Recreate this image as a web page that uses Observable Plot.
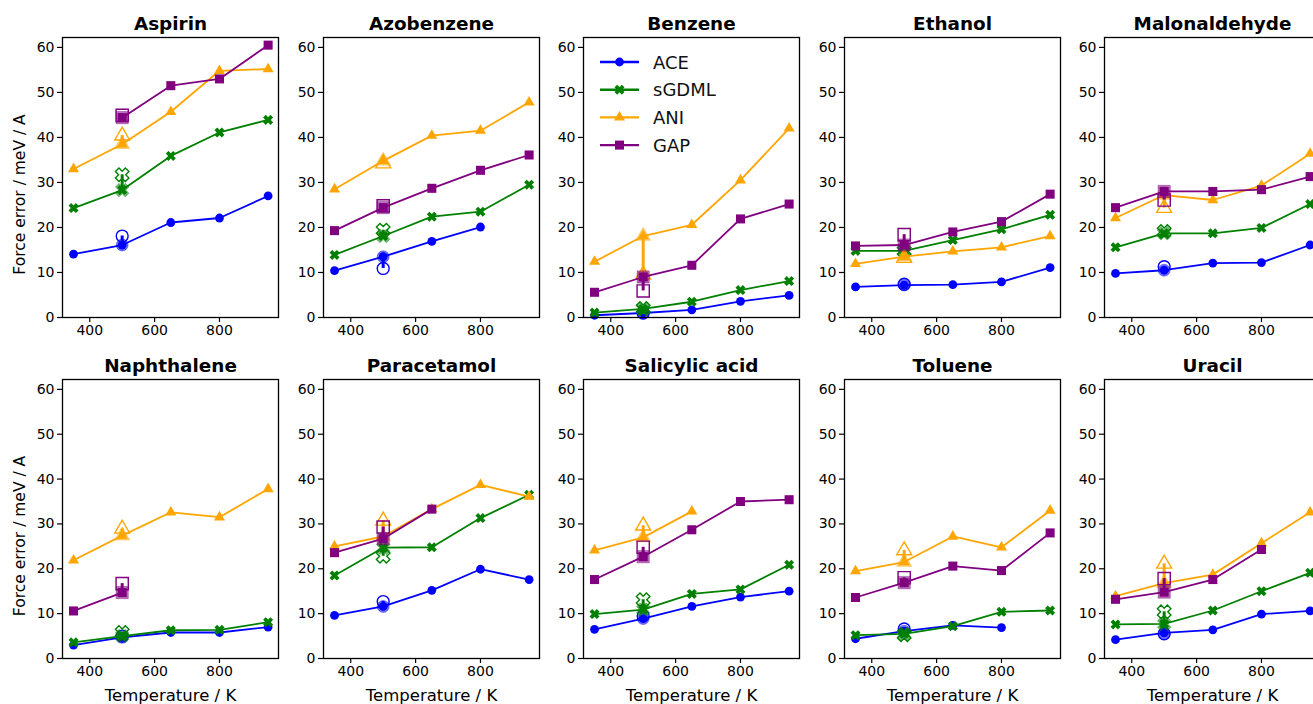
<!DOCTYPE html>
<html><head><meta charset="utf-8">
<script src="https://cdn.jsdelivr.net/npm/d3@7"></script>
<script src="https://cdn.jsdelivr.net/npm/@observablehq/plot@0.6"></script>
<style>
html,body{margin:0;padding:0;background:#fff;overflow:hidden;}
#root{position:relative;width:1313px;height:704px;overflow:hidden;font-family:"DejaVu Sans",sans-serif;background:#fff;}
</style></head><body><div id="root"></div>
<script>
const temps = [350, 500, 650, 800, 950];
const molecules = ["Aspirin","Azobenzene","Benzene","Ethanol","Malonaldehyde","Naphthalene","Paracetamol","Salicylic acid","Toluene","Uracil"];
const methods = ["ACE","sGDML","ANI","GAP"];
const colors = ["blue","green","orange","purple"];
const yTicks = [0,10,20,30,40,50,60];
const xTicks = [400,600,800];

// force errors (meV/A) per molecule at temps
const aceErr = [
 [14.1,16.1,21.1,22.1,27.0],
 [10.4,13.5,16.9,20.1,null],
 [0.5,1.0,1.7,3.6,4.9],
 [6.8,7.2,7.3,7.9,11.1],
 [9.8,10.5,12.1,12.2,16.1],
 [3.0,4.7,5.8,5.8,7.0],
 [9.6,11.6,15.2,19.9,17.6],
 [6.5,8.9,11.6,13.7,15.0],
 [4.4,6.1,7.4,6.9,null],
 [4.2,5.7,6.4,9.9,10.6]
];
const sgdmlErr = [
 [24.3,28.3,35.9,41.1,43.9],
 [13.9,18.1,22.4,23.5,29.5],
 [1.1,1.9,3.5,6.1,8.1],
 [14.8,14.8,17.2,19.6,22.8],
 [15.6,18.7,18.7,19.9,25.2],
 [3.6,5.0,6.3,6.4,8.1],
 [18.5,24.7,24.8,31.3,36.5],
 [9.9,10.9,14.4,15.4,20.9],
 [5.2,5.5,7.2,10.4,10.7],
 [7.6,7.7,10.7,15.0,19.1]
];
const aniErr = [
 [33.0,38.5,45.7,54.8,55.2],
 [28.5,34.8,40.4,41.5,47.8],
 [12.4,18.1,20.6,30.5,42.0],
 [11.9,13.5,14.7,15.6,18.1],
 [22.1,27.2,26.1,29.3,36.4],
 [21.9,27.4,32.6,31.5,37.8],
 [25.0,27.2,33.3,38.7,36.1],
 [24.1,27.0,32.8,null,null],
 [19.5,21.5,27.2,24.8,33.0],
 [13.9,16.8,18.7,25.7,32.6]
];
const gapErr = [
 [null,44.4,51.5,53.0,60.5],
 [19.3,24.4,28.7,32.7,36.1],
 [5.6,9.0,11.6,21.9,25.2],
 [15.9,16.1,19.0,21.3,27.4],
 [24.4,28.0,28.0,28.4,31.3],
 [10.6,14.7,null,null,null],
 [23.6,26.7,33.3,null,null],
 [17.6,22.7,28.7,35.0,35.4],
 [13.6,16.9,20.6,19.6,28.0],
 [13.2,14.8,17.6,24.3,null]
];
// alternative 500 K values (open markers)
const ace500   = [18.1,10.9,1.0,7.4,11.3,5.0,12.7,9.5,6.6,5.5];
const sgdml500 = [31.7,19.4,2.0,14.8,19.1,5.8,22.8,13.1,5.3,10.4];
const ani500   = [40.4,34.2,9.5,13.2,24.3,28.9,30.7,29.6,24.1,21.1];
const gap500   = [44.9,24.8,5.9,18.4,26.1,16.7,29.3,24.8,18.0,17.8];

const series = [aceErr, sgdmlErr, aniErr, gapErr];
const alts = [ace500, sgdml500, ani500, gap500];

// filled "X" marker
const xSym = {draw(ctx, size){
  const t = Math.sqrt(size)*0.6, w = t*0.36, k = Math.SQRT1_2;
  const pts=[[-w,-t],[w,-t],[w,-w],[t,-w],[t,w],[w,w],[w,t],[-w,t],[-w,w],[-t,w],[-t,-w],[-w,-w]];
  pts.forEach(([x,y],i)=>{const X=(x-y)*k, Y=(x+y)*k; if(i) ctx.lineTo(X,Y); else ctx.moveTo(X,Y);});
  ctx.closePath();
}};
const symbols = ["circle", xSym, "triangle", "square"];
const symTypes = [d3.symbolCircle, xSym, d3.symbolTriangle, d3.symbolSquare];
const radii = [4.4, 4.9, 4.1, 5.1];

const root = document.getElementById("root");

function panel(i){
  const row = Math.floor(i/5), col = i%5;
  const frameLeft = 62 + 260.5*col;
  const mL = 62, mR = 6, mT = 37, mB = row ? 46 : 28;
  const innerH = row ? 279 : 280;
  const W = mL + 216 + mR, H = mT + innerH + mB;
  const top = row ? 342 : 0;
  const marks = [];
  methods.forEach((m,k)=>{
    const vals = series[k][i];
    const alt = alts[k][i];
    const data = temps.map((T,j)=>({T, v: vals[j]}));
    const main = vals[1];
    marks.push(Plot.line(data, {x:"T", y:"v", stroke: colors[k], strokeWidth: 1.8}));
    marks.push(Plot.dot(data.filter(d=>d.v!=null), {x:"T", y:"v", symbol: symbols[k], r: radii[k], fill: colors[k], stroke: "none"}));
    if (main != null) {
      marks.push(Plot.dot([{T:500, v:main}], {x:"T", y:"v", symbol: symbols[k], r: radii[k]*1.35, fill: colors[k], fillOpacity: 0.55, stroke: colors[k], strokeOpacity: 0.4, strokeWidth: 1}));
      marks.push(Plot.ruleX([{T:500, a:main, b:alt}], {x:"T", y1:"a", y2:"b", stroke: colors[k], strokeWidth: 3}));
    }
    marks.push(Plot.dot([{T:500, v:alt}], {x:"T", y:"v", symbol: symbols[k], r: radii[k]*1.35, fill: "none", stroke: colors[k], strokeWidth: 1.4}));
  });
  marks.push(Plot.frame({stroke:"black", strokeWidth:1.3}));
  marks.push(Plot.axisY({ticks: yTicks, tickSize: 5, tickPadding: 3, fontSize: 14, label: null, strokeWidth: 1.2}));
  marks.push(Plot.axisX({ticks: xTicks, tickSize: 5, tickPadding: 3, fontSize: 14, label: null, strokeWidth: 1.2}));
  marks.push(Plot.text([molecules[i]], {text: d=>d, frameAnchor:"top", dy:-8, lineAnchor:"bottom", fontWeight:"bold", fontSize: 18.4, fill:"black"}));
  if (col === 0) marks.push(Plot.text(["Force error / meV / A"], {text: d=>d, frameAnchor:"left", textAnchor:"middle", dx:-42, dy: 17, rotate:-90, fontSize: 15.5, fill:"black"}));
  if (row === 1) marks.push(Plot.text(["Temperature / K"], {text: d=>d, frameAnchor:"bottom", dy: 42, lineAnchor:"bottom", fontSize: 16.5, fill:"black"}));
  const svg = Plot.plot({
    width: W, height: H, marginLeft: mL, marginRight: mR, marginTop: mT, marginBottom: mB,
    x: {domain: [316, 982]},
    y: {domain: [0, 62.2]},
    style: {background: "transparent", fontFamily: "DejaVu Sans", fontSize: "14px", overflow: "visible", color: "black"},
    marks
  });
  svg.style.position = "absolute";
  svg.style.left = (frameLeft - mL) + "px";
  svg.style.top = top + "px";
  svg.style.maxWidth = "none";
  root.appendChild(svg);
}
for (let i = 0; i < molecules.length; i++) panel(i);

// legend (inside Benzene panel)
const lg = d3.select(root).append("svg")
  .attr("width", 140).attr("height", 110)
  .style("position","absolute").style("left","590px").style("top","45px")
  .style("font-family","DejaVu Sans");
methods.forEach((m,k)=>{
  const y = 17 + k*27.7;
  const g = lg.append("g");
  g.append("line").attr("x1",10).attr("x2",49).attr("y1",y).attr("y2",y).attr("stroke",colors[k]).attr("stroke-width",2.4);
  g.append("path").attr("transform",`translate(29.5,${y})`).attr("d", d3.symbol(symTypes[k], Math.PI*radii[k]*radii[k])()).attr("fill",colors[k]);
  g.append("text").attr("x",63).attr("y",y+6.5).attr("font-size",18).attr("fill","#111").text(m);
});
</script></body></html>
